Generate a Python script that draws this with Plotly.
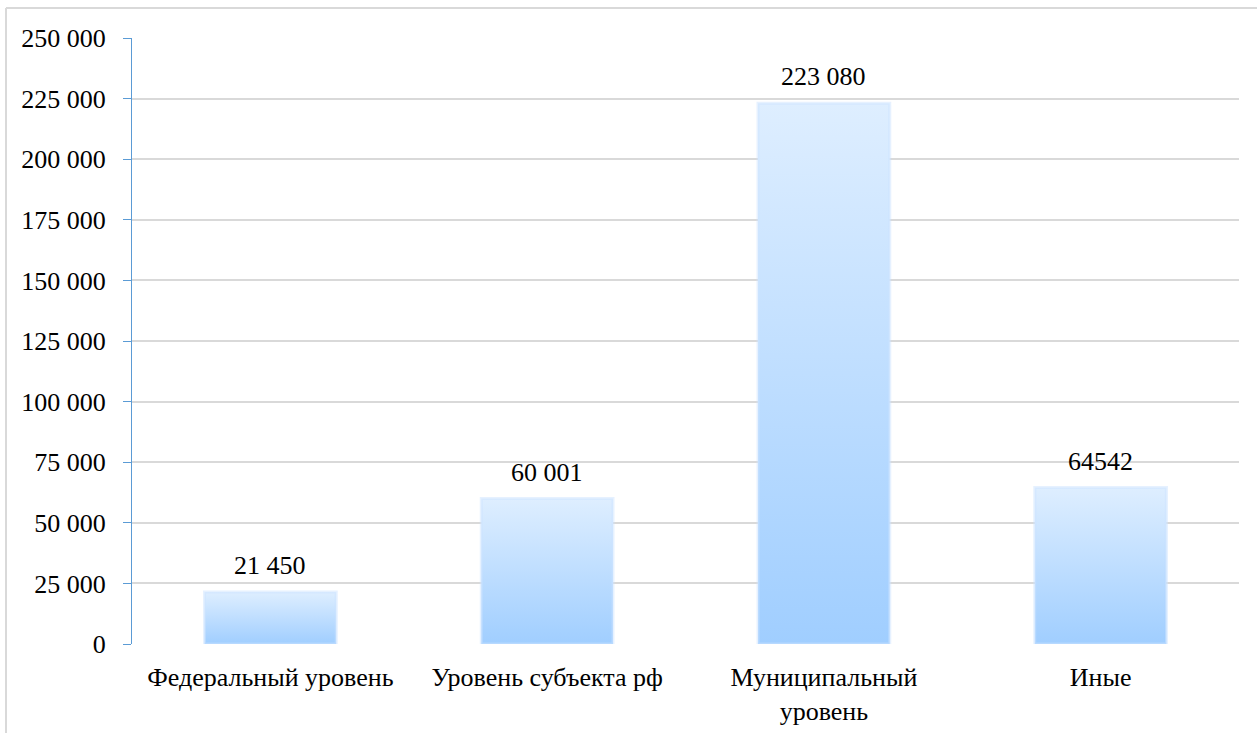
import plotly.graph_objects as go

categories = ["Федеральный уровень", "Уровень субъекта рф", "Муниципальный<br>уровень", "Иные"]
values = [21450, 60001, 223080, 64542]
value_labels = ["21 450", "60 001", "223 080", "64542"]
y_ticks = [0, 25000, 50000, 75000, 100000, 125000, 150000, 175000, 200000, 225000, 250000]
y_tick_labels = ["0", "25 000", "50 000", "75 000", "100 000", "125 000", "150 000",
                 "175 000", "200 000", "225 000", "250 000"]

FONT = "Liberation Serif, Times New Roman, serif"
FS = 26
half_w = 0.238

fig = go.Figure()
for i, v in enumerate(values):
    fig.add_trace(go.Scatter(
        x=[i - half_w, i + half_w, i + half_w, i - half_w, i - half_w],
        y=[0, 0, v, v, 0],
        mode="lines",
        fill="toself",
        line=dict(color="rgba(205,228,255,0.5)", width=3),
        fillgradient=dict(type="vertical",
                          colorscale=[[0, "rgb(160,206,255)"], [1, "rgb(222,238,255)"]]),
        hoverinfo="skip",
        showlegend=False,
    ))
    fig.add_annotation(x=i, y=v, text=value_labels[i], showarrow=False,
                       yanchor="bottom", yshift=10,
                       font=dict(family=FONT, size=FS, color="black"))

fig.update_layout(
    width=1257, height=733,
    margin=dict(l=132, r=18, t=38, b=89, autoexpand=False),
    paper_bgcolor="white", plot_bgcolor="white",
    font=dict(family=FONT, size=FS, color="black"),
    showlegend=False,
    xaxis=dict(range=[-0.5, 3.5], tickvals=list(range(len(categories))), ticktext=categories,
               showgrid=False, zeroline=False, showline=False, ticks="",
               ticklabelstandoff=15, automargin=False,
               tickfont=dict(family=FONT, size=FS, color="black")),
    yaxis=dict(range=[0, 250000], tickvals=y_ticks, ticktext=y_tick_labels,
               showgrid=True, gridcolor="#d9d9d9", gridwidth=1.5, zeroline=False,
               showline=True, linecolor="#5b9bd5", linewidth=1, automargin=False,
               ticks="outside", ticklen=8, tickcolor="#5b9bd5", ticklabelstandoff=12,
               tickfont=dict(family=FONT, size=FS, color="black")),
    shapes=[
        dict(type="line", xref="paper", yref="paper", x0=-126/1107, x1=1.2,
             y0=(644-8)/606, y1=(644-8)/606, line=dict(color="#d9d9d9", width=2)),
        dict(type="line", xref="paper", yref="paper", x0=-126/1107, x1=-126/1107,
             y0=(644-8)/606, y1=-0.3, line=dict(color="#d9d9d9", width=2)),
    ],
)

fig.write_html("out.html", config={"displayModeBar": False},
               post_script="document.body.style.margin='0';")
